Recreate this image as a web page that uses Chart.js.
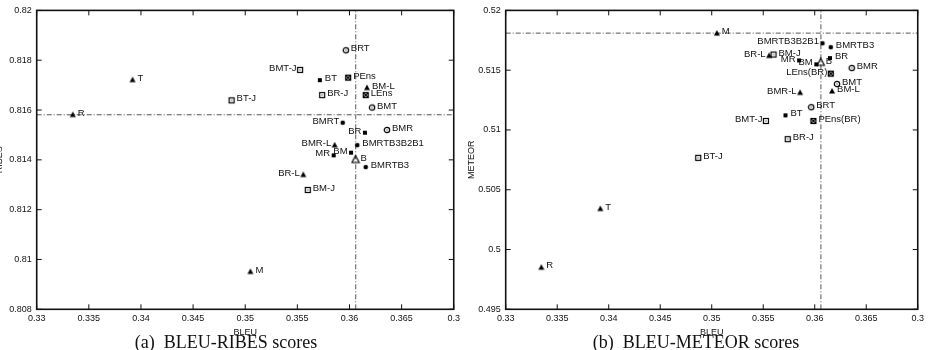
<!DOCTYPE html>
<html>
<head>
<meta charset="utf-8">
<script src="https://cdn.jsdelivr.net/npm/chart.js@4/dist/chart.umd.min.js"></script>
<style>
  html, body { margin: 0; padding: 0; background: #fff; }
  #wrap { position: relative; width: 928px; height: 350px; overflow: hidden; }
  .panel { position: absolute; top: 0; width: 464px; height: 350px; }
  .caption {
    position: absolute; top: 333px; line-height: 18px; white-space: nowrap;
    font-family: "Liberation Serif", "Times New Roman", serif; font-size: 18px; color: #111;
    transform: translateX(-50%);
  }
</style>
</head>
<body>
<div id="wrap">
  <div class="panel" style="left:0"><canvas id="ribesChart" width="464" height="350"></canvas></div>
  <div class="panel" style="left:464px"><canvas id="meteorChart" width="464" height="350"></canvas></div>
  <div class="caption" style="left:226px">(a)&nbsp; BLEU-RIBES scores</div>
  <div class="caption" style="left:696px">(b)&nbsp; BLEU-METEOR scores</div>
</div>
<script>
// Axis ticks
const bleuTicks = [0.33, 0.335, 0.34, 0.345, 0.35, 0.355, 0.36, 0.365, 0.37];
const bleuTickLabels = ['0.33', '0.335', '0.34', '0.345', '0.35', '0.355', '0.36', '0.365', '0.3'];
const ribesTicks = [0.808, 0.81, 0.812, 0.814, 0.816, 0.818, 0.82];
const ribesTickLabels = ['0.808', '0.81', '0.812', '0.814', '0.816', '0.818', '0.82'];
const meteorTicks = [0.495, 0.5, 0.505, 0.51, 0.515, 0.52];
const meteorTickLabels = ['0.495', '0.5', '0.505', '0.51', '0.515', '0.52'];

// (a) BLEU-RIBES
const ribesNames = ['R', 'T', 'M', 'BT-J', 'BMT-J', 'BT', 'BR-J', 'BRT', 'PEns', 'BM-L', 'LEns', 'BMT',
  'BMRT', 'BR', 'BMR', 'BMRTB3B2B1', 'BMR-L', 'MR', 'BM', 'B', 'BMRTB3', 'BR-L', 'BM-J'];
const ribesBleu = [0.33346, 0.33919, 0.3505, 0.34869, 0.35526, 0.35716, 0.35738, 0.35965, 0.35987, 0.36168, 0.36156, 0.36216,
  0.35935, 0.36148, 0.36359, 0.36075, 0.35858, 0.35848, 0.36015, 0.36058, 0.36156, 0.35557, 0.356];
const ribesScore = [0.81582, 0.81722, 0.80952, 0.81639, 0.81761, 0.8172, 0.8166, 0.8184, 0.8173, 0.8169, 0.8166, 0.8161,
  0.81549, 0.81509, 0.8152, 0.81459, 0.8146, 0.81418, 0.81429, 0.81401, 0.81371, 0.81341, 0.81279];
const ribesRefBleu = 0.3606;
const ribesRefScore = 0.81581;

// (b) BLEU-METEOR
const meteorNames = ['M', 'BMRTB3B2B1', 'BMRTB3', 'BR-L', 'BM-J', 'MR', 'BM', 'B', 'BR', 'BMR', 'LEns(BR)', 'BMT',
  'BM-L', 'BMR-L', 'BRT', 'BT', 'PEns(BR)', 'BMT-J', 'BR-J', 'BT-J', 'T', 'R'];
const meteorBleu = [0.3505, 0.36075, 0.36156, 0.35557, 0.356, 0.35848, 0.36015, 0.36058, 0.36148, 0.36359, 0.36156, 0.36216,
  0.36168, 0.35858, 0.35965, 0.35716, 0.35987, 0.35526, 0.35738, 0.34869, 0.33919, 0.33346];
const meteorScore = [0.5181, 0.51725, 0.51692, 0.51623, 0.51631, 0.51582, 0.51549, 0.51565, 0.51601, 0.51518, 0.51471, 0.51384,
  0.51326, 0.51314, 0.5119, 0.51122, 0.51075, 0.51075, 0.50923, 0.50767, 0.50343, 0.49852];
const meteorRefBleu = 0.3606;
const meteorRefScore = 0.5181;

// Marker style per system
const markerOf = {
  'R': 'tri', 'T': 'tri', 'M': 'tri', 'BM-L': 'tri', 'BMR-L': 'tri', 'BR-L': 'tri', 'B': 'openTri',
  'BT-J': 'boxDot', 'BMT-J': 'boxDot', 'BR-J': 'boxDot', 'BM-J': 'boxDot',
  'BT': 'box', 'BR': 'box', 'MR': 'box', 'BM': 'box',
  'BRT': 'circDot', 'BMT': 'circDot', 'BMR': 'circDot',
  'BMRT': 'circ', 'BMRTB3B2B1': 'circ', 'BMRTB3': 'circ',
  'PEns': 'xbox', 'LEns': 'xbox', 'PEns(BR)': 'xbox', 'LEns(BR)': 'xbox'
};
// Labels written on the left side of their marker
const ribesLeft = ['BMT-J', 'BMRT', 'BR', 'BMR-L', 'MR', 'BM', 'BR-L'];
const meteorLeft = ['BMRTB3B2B1', 'BR-L', 'MR', 'BM', 'LEns(BR)', 'BMR-L', 'BMT-J'];

const INK = '#111';
const FONT = '"Liberation Sans", Arial, sans-serif';

function makeMarker(kind) {
  const c = document.createElement('canvas');
  c.width = 10; c.height = 10;
  const g = c.getContext('2d');
  g.fillStyle = '#000'; g.strokeStyle = '#000'; g.lineWidth = 1.2;
  if (kind === 'tri') {
    g.beginPath(); g.moveTo(5, 2); g.lineTo(8, 7.5); g.lineTo(2, 7.5); g.closePath(); g.fill();
  } else if (kind === 'openTri') {
    g.beginPath(); g.moveTo(5, 1); g.lineTo(8.6, 8); g.lineTo(1.4, 8); g.closePath(); g.stroke();
  } else if (kind === 'box') {
    g.fillRect(3, 3, 4, 4);
  } else if (kind === 'boxDot') {
    g.strokeRect(2.5, 2.5, 5, 5); g.fillRect(4.5, 4.5, 1, 1);
  } else if (kind === 'circ') {
    g.beginPath(); g.arc(5, 5, 2.3, 0, Math.PI * 2); g.fill();
  } else if (kind === 'circDot') {
    g.beginPath(); g.arc(5, 5, 2.7, 0, Math.PI * 2); g.stroke(); g.fillRect(4.5, 4.5, 1, 1);
  } else if (kind === 'xbox') {
    g.strokeRect(2.5, 2.5, 5, 5);
    g.beginPath(); g.moveTo(2.5, 2.5); g.lineTo(7.5, 7.5); g.moveTo(7.5, 2.5); g.lineTo(2.5, 7.5); g.stroke();
  }
  return c;
}

const markers = {};
['tri', 'openTri', 'box', 'boxDot', 'circ', 'circDot', 'xbox'].forEach(k => { markers[k] = makeMarker(k); });

// Frame, inward ticks and point labels (gnuplot look)
const framePlugin = {
  id: 'frame',
  afterDatasetsDraw(chart, args, opts) {
    const { ctx, chartArea: a } = chart;
    const xs = chart.scales.x, ys = chart.scales.y;
    ctx.save();
    ctx.strokeStyle = '#111';
    ctx.lineWidth = 1;
    ctx.beginPath();
    xs.ticks.forEach(t => {
      const px = xs.getPixelForValue(t.value);
      ctx.moveTo(px, a.bottom); ctx.lineTo(px, a.bottom - 5);
      ctx.moveTo(px, a.top); ctx.lineTo(px, a.top + 5);
    });
    ys.ticks.forEach(t => {
      const py = ys.getPixelForValue(t.value);
      ctx.moveTo(a.left, py); ctx.lineTo(a.left + 5, py);
      ctx.moveTo(a.right, py); ctx.lineTo(a.right - 5, py);
    });
    ctx.stroke();
    ctx.lineWidth = 1.6;
    ctx.strokeRect(a.left, a.top, a.width, a.height);

    // labels next to the points
    const meta = chart.getDatasetMeta(0);
    const pts = chart.data.datasets[0].data;
    ctx.fillStyle = INK;
    ctx.font = '9.5px ' + FONT;
    ctx.textBaseline = 'middle';
    meta.data.forEach((el, i) => {
      const name = pts[i].name;
      if (opts.left.includes(name)) {
        ctx.textAlign = 'right';
        ctx.fillText(name, el.x - 3.5, el.y - 1.5);
      } else {
        ctx.textAlign = 'left';
        ctx.fillText(name, el.x + 5, el.y - 1.5);
      }
    });
    ctx.restore();
  }
};

function makeChart(canvasId, cfg) {
  const points = cfg.names.map((n, i) => ({ x: cfg.bleu[i], y: cfg.score[i], name: n }));
  const refStyle = { type: 'line', showLine: true, pointRadius: 0, borderColor: '#555', borderWidth: 1, borderDash: [5, 2, 1, 2] };
  const xMin = bleuTicks[0], xMax = bleuTicks[bleuTicks.length - 1];
  const yMin = cfg.yTicks[0], yMax = cfg.yTicks[cfg.yTicks.length - 1];
  const tickFont = { family: FONT, size: 9 };

  return new Chart(document.getElementById(canvasId), {
    type: 'scatter',
    data: {
      datasets: [
        {
          data: points,
          pointStyle: points.map(p => markers[markerOf[p.name]]),
          clip: false,
          order: 0
        },
        Object.assign({ data: [{ x: xMin, y: cfg.refScore }, { x: xMax, y: cfg.refScore }], order: 1 }, refStyle),
        Object.assign({ data: [{ x: cfg.refBleu, y: yMin }, { x: cfg.refBleu, y: yMax }], order: 1 }, refStyle)
      ]
    },
    options: {
      responsive: false,
      animation: false,
      layout: { padding: { left: 0, top: 6.7, right: cfg.padRight, bottom: 0 } },
      plugins: {
        legend: { display: false },
        tooltip: { enabled: false },
        frame: { left: cfg.left }
      },
      scales: {
        x: {
          type: 'linear', min: xMin, max: xMax,
          afterBuildTicks: s => { s.ticks = bleuTicks.map(v => ({ value: v })); },
          afterFit: s => { s.height = 40.7; },
          grid: { display: false, drawTicks: false },
          border: { display: false },
          ticks: {
            padding: 4, color: INK, font: tickFont, maxRotation: 0, autoSkip: false,
            callback: (v, i) => bleuTickLabels[i]
          },
          title: {
            display: true, text: 'BLEU', color: INK,
            font: { family: FONT, size: 9, lineHeight: 1.2 },
            padding: { top: 0, bottom: 11.6 }
          }
        },
        y: {
          type: 'linear', min: yMin, max: yMax,
          afterBuildTicks: s => { s.ticks = cfg.yTicks.map(v => ({ value: v })); },
          afterFit: s => { s.width = cfg.yWidth; },
          grid: { display: false, drawTicks: false },
          border: { display: false },
          ticks: {
            padding: 5, color: INK, font: tickFont, autoSkip: false,
            callback: (v, i) => cfg.yTickLabels[i]
          },
          title: {
            display: true, text: cfg.yTitle, color: INK,
            font: { family: FONT, size: 9, lineHeight: cfg.yTitleLh },
            padding: { top: cfg.yTitlePad, bottom: 0 }
          }
        }
      }
    },
    plugins: [framePlugin]
  });
}

makeChart('ribesChart', {
  names: ribesNames, bleu: ribesBleu, score: ribesScore,
  refBleu: ribesRefBleu, refScore: ribesRefScore,
  yTicks: ribesTicks, yTickLabels: ribesTickLabels, yTitle: 'RIBES',
  yWidth: 36.7, padRight: 9, yTitleLh: 0.1, yTitlePad: -1.2,
  left: ribesLeft
});

makeChart('meteorChart', {
  names: meteorNames, bleu: meteorBleu, score: meteorScore,
  refBleu: meteorRefBleu, refScore: meteorRefScore,
  yTicks: meteorTicks, yTickLabels: meteorTickLabels, yTitle: 'METEOR',
  yWidth: 41.7, padRight: 4.7, yTitleLh: 1.2, yTitlePad: 2.1,
  left: meteorLeft
});
</script>
</body>
</html>
